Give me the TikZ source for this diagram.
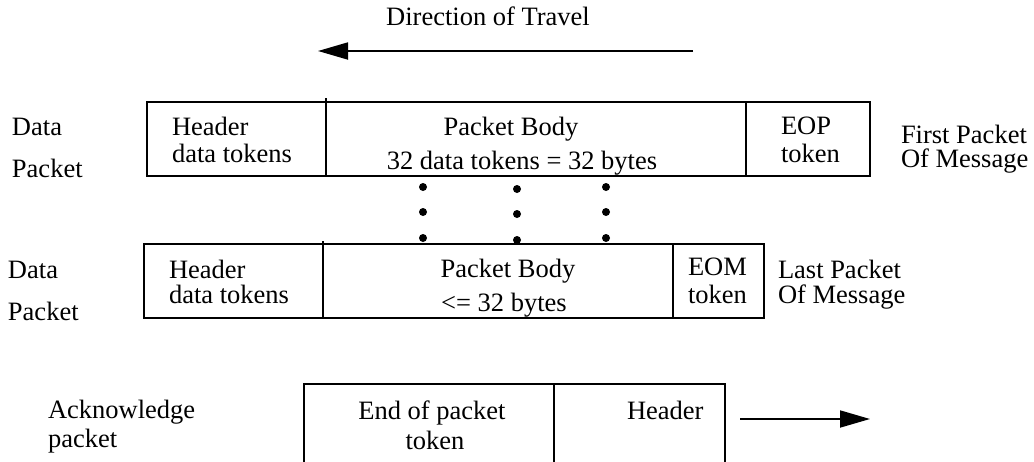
\documentclass[tikz,border=0pt]{standalone}
\usepackage{fontspec}
\setmainfont{Liberation Serif}
\usetikzlibrary{arrows.meta}
\begin{document}
\begin{tikzpicture}[x=1pt,y=-1pt,
  every node/.style={inner sep=0pt, outer sep=0pt, font=\fontsize{26.5}{30}\selectfont},
  cell/.style={draw, line width=1.8pt, anchor=north west, minimum height=74pt},
  lbl/.style={anchor=base west},
  ctr/.style={anchor=base},
  flow/.style={line width=1.8pt, -{Triangle[length=30pt,width=17pt]}},
  dotmark/.style={circle, fill, minimum size=8pt}]
\useasboundingbox (0,0) rectangle (1034,461);
\clip (0,0) rectangle (1034,461);

% direction of travel
\node[ctr] (title) at (488,25) {Direction of Travel};
\coordinate (travelA) at (693,51);
\coordinate (travelB) at (318,51);
\draw[flow] (travelA) -- (travelB);

% first packet of message
\node[cell, minimum width=179pt] (hdA) at (147,102) {};
\node[cell, minimum width=420pt] (bodyA) at (326,102) {};
\node[cell, minimum width=124pt] (eopA) at (746,102) {};
\draw[line width=1.8pt] (hdA.north east) -- ++(0,-4);
\node[lbl] (dataA1) at (12,135) {Data};
\node[lbl] (dataA2) at (12,177) {Packet};
\node[lbl] (hdA1) at (172,135) {Header};
\node[lbl] (hdA2) at (172,162) {data tokens};
\node[ctr] (bodyA1) at (511,135) {Packet Body};
\node[ctr] (bodyA2) at (522,169) {32 data tokens = 32 bytes};
\node[lbl] (eopA1) at (781,134) {EOP};
\node[lbl] (eopA2) at (781,162) {token};
\node[lbl] (firstA1) at (901,143) {First Packet};
\node[lbl] (firstA2) at (901,167) {Of Message};

% omitted packets
\foreach \x/\d [count=\i] in {423/0,517/2,606/0}{
  \node[dotmark] (dot\i a) at (\x,187+\d) {};
  \node[dotmark] (dot\i b) at (\x,212+\d) {};
  \node[dotmark] (dot\i c) at (\x,238+\d) {};
}

% last packet of message
\node[cell, minimum width=179pt] (hdB) at (144,244) {};
\node[cell, minimum width=350pt] (bodyB) at (323,244) {};
\node[cell, minimum width=91pt] (eomB) at (673,244) {};
\draw[line width=1.8pt] (hdB.north east) -- ++(0,-3);
\node[lbl] (dataB1) at (8,278) {Data};
\node[lbl] (dataB2) at (8,320) {Packet};
\node[lbl] (hdB1) at (169,278) {Header};
\node[lbl] (hdB2) at (169,303) {data tokens};
\node[ctr] (bodyB1) at (508,277) {Packet Body};
\node[ctr] (bodyB2) at (504,311) {<= 32 bytes};
\node[lbl] (eomB1) at (688,275) {EOM};
\node[lbl] (eomB2) at (688,303) {token};
\node[lbl] (lastB1) at (778,278) {Last Packet};
\node[lbl] (lastB2) at (778,303) {Of Message};

% acknowledge packet
\node[lbl] (ack1) at (48,418) {Acknowledge};
\node[lbl] (ack2) at (48,447) {packet};
\node[cell, minimum width=250pt, minimum height=100pt] (endC) at (304,384) {};
\node[cell, minimum width=171pt, minimum height=100pt] (hdC) at (554,384) {};
\node[ctr] (endC1) at (432,419) {End of packet};
\node[ctr] (endC2) at (435,449) {token};
\node[lbl] (hdC1) at (627,419) {Header};
\coordinate (ackA) at (740,419);
\coordinate (ackB) at (870,419);
\draw[flow] (ackA) -- (ackB);
\end{tikzpicture}
\end{document}
